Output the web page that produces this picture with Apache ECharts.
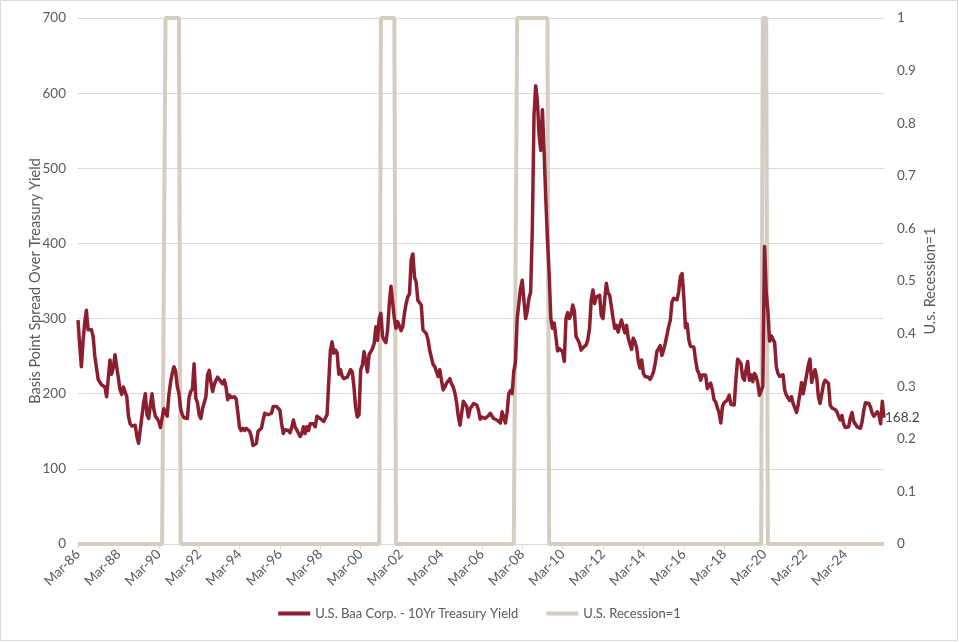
<!DOCTYPE html>
<html><head><meta charset="utf-8">
<script src="https://cdn.jsdelivr.net/npm/echarts@6/dist/echarts.min.js"></script>
<style>html,body{margin:0;padding:0;background:#fff}#c{width:959px;height:642px}</style>
</head><body><div id="c"></div>
<script>
// Monthly data, Mar-1986 .. Feb-2026
const startYear = 1986, startMonth = 2; // March (0-based)
const monthNames = ['Jan','Feb','Mar','Apr','May','Jun','Jul','Aug','Sep','Oct','Nov','Dec'];

const spread = [
  298,265,236,270,295,311,285,285,285,276,
  250,248,219,217,212,214,209,196,196,245,226,235,
  252,236,221,205,199,209,207,196,170,160,157,157,
  158,143,134,152,170,188,200,172,167,185,200,180,
  170,167,163,155,168,180,175,170,198,215,227,236,
  230,210,200,180,172,168,166,167,195,203,206,240,
  194,188,172,167,180,188,196,225,231,215,203,212,
  218,222,219,216,213,218,208,192,198,195,196,196,
  193,175,155,151,154,151,154,156,150,143,131,131,
  134,150,150,154,165,174,174,172,172,174,183,185,
  183,183,178,160,147,152,151,151,148,155,165,156,
  152,153,143,147,156,147,156,151,160,158,160,156,
  170,169,167,165,163,165,172,215,258,269,254,258,
  254,226,232,223,220,220,222,222,232,229,209,182,
  169,172,232,238,256,243,229,252,256,260,267,289,
  271,300,307,276,271,268,285,320,343,345,300,287,
  296,296,284,289,307,320,329,333,378,386,355,348,
  324,322,318,285,284,280,272,258,259,239,236,234,
  223,232,218,205,209,214,215,220,213,209,201,188,
  170,158,174,190,191,183,169,180,183,187,189,185,
  178,166,169,168,167,169,171,174,172,167,167,165,
  163,161,176,168,161,175,200,204,200,230,242,300,
  320,340,351,325,300,310,327,335,420,570,610,590,
  545,524,578,522,460,405,360,300,287,294,294,257,
  260,260,256,243,300,308,300,305,318,310,276,272,
  267,258,261,262,265,272,287,325,338,320,329,331,
  331,304,300,325,347,334,331,329,300,287,291,282,
  291,298,289,281,291,274,272,259,274,269,261,243,
  234,245,227,223,223,222,219,223,229,240,256,256,
  264,251,258,267,278,289,298,322,327,327,325,336,
  356,360,330,288,293,272,263,262,262,245,232,227,
  218,225,227,225,207,205,214,205,192,189,181,175,
  161,183,188,187,192,198,186,187,185,219,246,246,
  240,222,218,232,243,218,225,216,227,223,214,198,
  196,210,396,335,310,270,277,276,268,236,227,223,
  221,225,205,198,196,191,196,187,185,175,185,187,
  215,200,200,225,238,246,215,216,232,222,196,187,
  187,212,218,218,214,185,181,182,179,176,170,165,
  171,160,155,153,156,168,175,163,163,156,154,154,
  163,178,188,188,187,182,174,170,170,176,172,160,
  190,168.2
];

// NBER recession months (first, last) as [year, month(1-12)]
const recessionPeriods = [
  [[1990,7],[1991,3]],
  [[2001,3],[2001,11]],
  [[2007,12],[2009,6]],
  [[2020,2],[2020,4]]
];

const leftTicks = {min: 0, max: 700, interval: 100};
const rightTicks = {min: 0, max: 1, interval: 0.1};

const categories = [];
const recession = [];
for (let i = 0; i < spread.length; i++) {
  const m = (startMonth + i) % 12;
  const y = startYear + Math.floor((startMonth + i) / 12);
  categories.push(monthNames[m] + '-' + String(y % 100).padStart(2, '0'));
  const key = y * 12 + m;
  let r = 0;
  for (const [a, b] of recessionPeriods) {
    if (key >= a[0] * 12 + a[1] - 1 && key <= b[0] * 12 + b[1] - 1) r = 1;
  }
  recession.push(r);
}

const FONT = 'Lato';
const LABEL = '#595959';
const chart = echarts.init(document.getElementById('c'), null, {renderer: 'canvas'});
chart.setOption({
  animation: false,
  backgroundColor: '#fff',
  textStyle: {fontFamily: FONT},
  graphic: [{
    type: 'rect', shape: {x: 0.5, y: 0.5, width: 957, height: 640},
    style: {fill: 'none', stroke: '#d9d9d9', lineWidth: 1}, silent: true
  }],
  grid: {left: 78, right: 75, top: 18, bottom: 98, containLabel: false},
  legend: {
    bottom: 17, left: 'center', itemWidth: 32, itemHeight: 4, itemGap: 28,
    textStyle: {fontFamily: FONT, fontSize: 13, color: LABEL},
    data: [
      {name: 'U.S. Baa Corp. - 10Yr Treasury Yield', icon: 'rect'},
      {name: 'U.S. Recession=1', icon: 'rect'}
    ]
  },
  xAxis: {
    type: 'category', data: categories, boundaryGap: false,
    axisLine: {lineStyle: {color: '#d9d9d9'}},
    axisTick: {show: true, interval: 23, length: 5, lineStyle: {color: '#d9d9d9'}},
    axisLabel: {interval: 23, rotate: 45, fontFamily: FONT, fontSize: 13.5, color: LABEL, margin: 8},
    splitLine: {show: false}
  },
  yAxis: [{
    type: 'value', min: leftTicks.min, max: leftTicks.max, interval: leftTicks.interval,
    name: 'Basis Point Spread Over Treasury Yield', nameLocation: 'middle', nameGap: 35,
    nameMoveOverlap: false,
    nameTextStyle: {fontFamily: FONT, fontSize: 14.5, color: LABEL},
    axisLine: {show: false}, axisTick: {show: false},
    axisLabel: {fontFamily: FONT, fontSize: 13.5, color: LABEL, margin: 12},
    splitLine: {lineStyle: {color: '#d9d9d9', width: 1}}
  }, {
    type: 'value', min: rightTicks.min, max: rightTicks.max, interval: rightTicks.interval,
    position: 'right',
    name: 'U.s. Recession=1', nameLocation: 'middle', nameGap: 39, nameRotate: 90,
    nameMoveOverlap: false,
    nameTextStyle: {fontFamily: FONT, fontSize: 14.5, color: LABEL},
    axisLine: {show: false}, axisTick: {show: false},
    axisLabel: {fontFamily: FONT, fontSize: 13.5, color: LABEL, margin: 13},
    splitLine: {show: false}
  }],
  series: [{
    name: 'U.S. Recession=1', type: 'line', data: recession,
    yAxisIndex: 1, symbol: 'none', showSymbol: false,
    lineStyle: {color: '#D6CCBF', width: 4}, itemStyle: {color: '#D6CCBF'},
    z: 2
  }, {
    name: 'U.S. Baa Corp. - 10Yr Treasury Yield', type: 'line', data: spread,
    yAxisIndex: 0, symbol: 'none', showSymbol: false,
    lineStyle: {color: '#8B1E2F', width: 3.5, join: 'round'}, itemStyle: {color: '#8B1E2F'},
    endLabel: {show: true, formatter: '{c}', fontFamily: FONT, fontSize: 13.5, color: '#404040', distance: 1},
    z: 3
  }]
});
</script></body></html>
